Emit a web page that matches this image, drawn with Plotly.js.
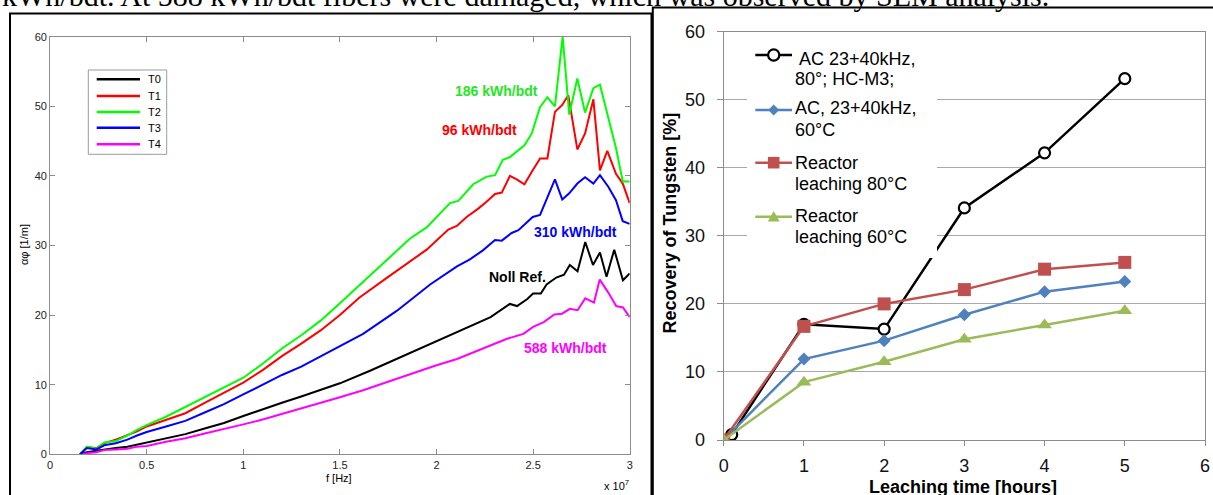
<!DOCTYPE html>
<html><head><meta charset="utf-8">
<script src="https://cdn.plot.ly/plotly-3.0.1.min.js"></script>
<style>html,body{margin:0;padding:0;background:#fff;overflow:hidden}#chart{width:1213px;height:495px}</style>
</head><body><div id="chart"></div><script>
// ---------- Left chart data (f in units of 1e7 Hz) ----------
const fT0 = [0.155,0.19,0.24,0.28,0.34,0.40,0.45,0.5,0.6,0.7,0.8,0.9,1.0,1.1,1.2,1.3,1.4,1.5,1.656,1.794,2.0,2.14,2.28,2.38,2.417,2.47,2.5,2.54,2.57,2.62,2.66,2.69,2.73,2.77,2.81,2.846,2.88,2.92,2.965,3.0];
const T0  = [0,0.3,0.5,0.7,0.9,1.1,1.4,1.6,2.2,2.9,3.7,4.5,5.5,6.5,7.4,8.3,9.3,10.2,12.0,13.7,16.3,18.0,19.7,21.6,21.3,22.3,23.1,23.1,24.4,25.4,25.8,27.2,26.3,30.5,27.2,29.0,25.5,29.4,25.0,26.0];
const fT1 = [0.155,0.19,0.24,0.28,0.34,0.40,0.45,0.5,0.6,0.7,0.8,0.9,1.0,1.1,1.2,1.3,1.4,1.5,1.6,1.75,1.872,1.949,2.061,2.105,2.156,2.216,2.259,2.303,2.338,2.38,2.415,2.455,2.498,2.536,2.574,2.613,2.651,2.682,2.729,2.769,2.812,2.846,2.884,2.929,2.964,3.0];
const T1  = [0,1.0,0.9,1.6,2.1,2.7,3.3,4.0,4.9,5.9,7.4,8.8,10.3,12.1,14.1,15.9,17.8,20.0,22.5,25.5,27.9,29.4,32.3,32.8,34.1,35.3,36.3,37.4,37.6,40.0,39.5,38.8,40.8,42.5,42.5,49.2,50.2,51.6,43.8,46.1,51.0,40.8,43.6,40.3,38.9,36.1];
const fT2 = [0.155,0.19,0.24,0.28,0.34,0.40,0.45,0.5,0.6,0.7,0.8,0.9,1.0,1.1,1.2,1.3,1.4,1.5,1.6,1.76,1.863,1.949,2.07,2.113,2.19,2.26,2.303,2.343,2.38,2.455,2.493,2.536,2.574,2.613,2.653,2.687,2.729,2.769,2.812,2.846,2.889,2.929,2.964,3.0];
const T2  = [0,1.1,0.8,1.7,1.9,2.7,3.5,4.2,5.4,6.8,8.3,9.6,11.0,13.0,15.2,17.1,19.2,21.7,24.3,28.4,31.0,32.6,36.1,36.4,38.8,39.9,40.1,42.3,42.7,44.4,46.1,49.9,51.3,50.0,60.0,48.8,54.0,49.1,52.6,53.1,48.5,44.0,39.2,39.2];
const fT3 = [0.155,0.19,0.24,0.28,0.34,0.40,0.45,0.5,0.6,0.7,0.8,0.9,1.0,1.1,1.2,1.3,1.4,1.5,1.62,1.794,1.967,2.106,2.173,2.24,2.303,2.338,2.389,2.424,2.498,2.536,2.613,2.651,2.687,2.729,2.769,2.812,2.846,2.89,2.929,2.964,3.0];
const T3  = [0,0.9,0.7,1.3,1.6,2.1,2.7,3.2,4.0,4.8,6.0,7.2,8.6,10.0,11.4,12.6,14.1,15.5,17.3,20.6,24.4,27.0,28.0,29.3,30.8,30.7,31.8,32.2,34.1,34.4,39.5,36.6,37.5,38.9,39.8,38.9,40.1,38.4,36.5,33.5,33.1];
const fT4 = [0.17,0.2,0.24,0.28,0.34,0.40,0.45,0.5,0.6,0.7,0.8,0.9,1.0,1.1,1.2,1.3,1.4,1.5,1.62,1.794,2.0,2.106,2.227,2.365,2.45,2.5,2.555,2.61,2.65,2.69,2.73,2.77,2.815,2.845,2.89,2.93,2.965,3.0];
const T4  = [0,0.2,0.3,0.6,0.7,0.8,1.1,1.2,1.8,2.3,3.0,3.6,4.3,5.0,5.8,6.5,7.3,8.2,9.2,10.9,12.8,13.7,15.1,16.6,17.3,18.3,19.0,20.1,20.2,20.9,20.7,22.4,21.8,25.1,23.2,21.3,21.1,19.7];
const leftNames = ['T0','T1','T2','T3','T4'];
const leftColors = ['#000000','#ff0000','#00ff00','#0000ff','#ff00ff'];
const fTicks = [0,0.5,1,1.5,2,2.5,3];
const fTickText = ['0','0.5','1','1.5','2','2.5','3'];
const leftYTicks = [0,10,20,30,40,50,60];

// ---------- Right chart data ----------
const hoursAC80 = [0.1,1,2,3,4,5];
const recAC80   = [0.8,17.0,16.3,34.1,42.2,53.1];
const hours     = [0,1,2,3,4,5];
const recAC60   = [0,11.9,14.6,18.4,21.8,23.3];
const recR80    = [0,16.7,20.0,22.1,25.1,26.1];
const recR60    = [0,8.5,11.5,14.8,16.9,19.0];
const rightNames = ['AC 23+40kHz, 80°; HC-M3;','AC, 23+40kHz, 60°C','Reactor leaching 80°C','Reactor leaching 60°C'];
const rightColors = ['#000000','#4f81bd','#c0504d','#9bbb59'];
const rightXTicks = [0,1,2,3,4,5,6];
const rightYTicks = [0,10,20,30,40,50,60];

// ---------- helpers: pixel -> paper ----------
const W = 1213, H = 495;
const X = p => p / W;
const Y = p => 1 - p / H;
const SANS = 'Liberation Sans, Arial, sans-serif';
const SERIF = 'Liberation Serif, Times New Roman, serif';

const leftSeries = [[fT0,T0],[fT1,T1],[fT2,T2],[fT3,T3],[fT4,T4]];
const traces = leftSeries.map((s,i) => ({
  type:'scatter', mode:'lines', x:s[0], y:s[1], name:leftNames[i],
  xaxis:'x', yaxis:'y', showlegend:false, hoverinfo:'skip',
  line:{color:leftColors[i], width:2}
}));

const rightSeries = [[hoursAC80,recAC80],[hours,recAC60],[hours,recR80],[hours,recR60]];
const rightMarkers = [
  {symbol:'circle', size:11, color:'#ffffff', line:{color:'#000000', width:2.2}},
  {symbol:'diamond', size:10, color:rightColors[1], line:{width:0}},
  {symbol:'square', size:13, color:rightColors[2], line:{width:0}},
  {symbol:'triangle-up', size:13, color:rightColors[3], line:{width:0}}
];
rightSeries.forEach((s,i) => traces.push({
  type:'scatter', mode:'lines+markers', x:s[0], y:s[1], name:rightNames[i],
  xaxis:'x2', yaxis:'y2', showlegend:false, hoverinfo:'skip',
  line:{color:rightColors[i], width:2.5}, marker:rightMarkers[i]
}));

const shapes = [];
const annotations = [];

// panel frames
shapes.push({type:'rect', xref:'paper', yref:'paper', x0:X(10), x1:X(651.5), y0:Y(13.5), y1:Y(520), line:{color:'#000', width:2}, layer:'above'});
shapes.push({type:'path', xref:'paper', yref:'paper', path:`M ${X(652.8)} ${Y(520)} L ${X(652.8)} ${Y(7.5)} L ${X(1220)} ${Y(7.5)}`, line:{color:'#000', width:2}, layer:'above'});

// left legend (box, line samples, labels)
shapes.push({type:'rect', xref:'paper', yref:'paper', x0:X(88.3), x1:X(166.7), y0:Y(70), y1:Y(154.3), line:{color:'#9a9a9a', width:1}, fillcolor:'#ffffff', layer:'above'});
const legLY = [79.3, 96, 112, 127.7, 144.3];
leftNames.forEach((n,i) => {
  shapes.push({type:'line', xref:'paper', yref:'paper', x0:X(96.7), x1:X(140), y0:Y(legLY[i]), y1:Y(legLY[i]), line:{color:leftColors[i], width:2.6}, layer:'above'});
  annotations.push({xref:'paper', yref:'paper', x:X(145.5), y:Y(legLY[i]), xanchor:'left', yanchor:'middle', text:n, showarrow:false, font:{family:SANS, size:11, color:'#000'}});
});

// left curve labels
const curveLabels = [
  ['186 kWh/bdt', 496.5, 91, '#22e622'],
  ['96 kWh/bdt', 479.5, 130, '#ff0000'],
  ['310 kWh/bdt', 575.5, 232, '#0000ff'],
  ['Noll Ref.', 517, 277, '#000000'],
  ['588 kWh/bdt', 565.5, 348, '#ff00ff']
];
curveLabels.forEach(c => annotations.push({xref:'paper', yref:'paper', x:X(c[1]), y:Y(c[2]), xanchor:'center', yanchor:'middle', text:'<b>'+c[0]+'</b>', showarrow:false, font:{family:SANS, size:14, color:c[3]}}));

// left axis titles
annotations.push({xref:'paper', yref:'paper', x:X(339), y:Y(478), xanchor:'center', yanchor:'middle', text:'f [Hz]', showarrow:false, font:{family:SANS, size:11, color:'#000'}});
annotations.push({xref:'paper', yref:'paper', x:X(24), y:Y(245), xanchor:'center', yanchor:'middle', textangle:-90, text:'αφ [1/m]', showarrow:false, font:{family:SANS, size:11, color:'#000'}});
annotations.push({xref:'paper', yref:'paper', x:X(631), y:Y(485), xanchor:'right', yanchor:'middle', text:'x 10<sup>7</sup>', showarrow:false, font:{family:SANS, size:11, color:'#000'}});

// right legend (white panel, samples, text)
shapes.push({type:'rect', xref:'paper', yref:'paper', x0:X(747), x1:X(937), y0:Y(38), y1:Y(258), line:{width:0}, fillcolor:'#ffffff', layer:'above'});
const legRY = [55, 110, 162.7, 216.7];
const mx = 773.7;
legRY.forEach((yy,i) => {
  shapes.push({type:'line', xref:'paper', yref:'paper', x0:X(755.3), x1:X(792), y0:Y(yy), y1:Y(yy), line:{color:rightColors[i], width:2.5}, layer:'above'});
});
shapes.push({type:'circle', xref:'paper', yref:'paper', x0:X(mx-5.6), x1:X(mx+5.6), y0:Y(55-5.6), y1:Y(55+5.6), line:{color:'#000', width:2.2}, fillcolor:'#fff', layer:'above'});
shapes.push({type:'path', xref:'paper', yref:'paper', path:`M ${X(mx-5.5)} ${Y(110)} L ${X(mx)} ${Y(104.5)} L ${X(mx+5.5)} ${Y(110)} L ${X(mx)} ${Y(115.5)} Z`, line:{width:0}, fillcolor:rightColors[1], layer:'above'});
shapes.push({type:'rect', xref:'paper', yref:'paper', x0:X(mx-5.8), x1:X(mx+5.8), y0:Y(162.7-5.8), y1:Y(162.7+5.8), line:{width:0}, fillcolor:rightColors[2], layer:'above'});
shapes.push({type:'path', xref:'paper', yref:'paper', path:`M ${X(mx-6)} ${Y(221.5)} L ${X(mx)} ${Y(211)} L ${X(mx+6)} ${Y(221.5)} Z`, line:{width:0}, fillcolor:rightColors[3], layer:'above'});
const legRText = [
  ['AC 23+40kHz,', 798, 59], ['80°; HC-M3;', 793.7, 79.2],
  ['AC, 23+40kHz,', 793.7, 108.5], ['60°C', 793.7, 130],
  ['Reactor', 793.7, 162.5], ['leaching 80°C', 793.7, 183.5],
  ['Reactor', 793.7, 215.8], ['leaching 60°C', 793.7, 236.8]
];
legRText.forEach(t => annotations.push({xref:'paper', yref:'paper', x:X(t[1]-1), y:Y(t[2]), xanchor:'left', yanchor:'middle', text:t[0], showarrow:false, font:{family:SANS, size:18, color:'#000'}}));

// right axis titles
annotations.push({xref:'paper', yref:'paper', x:X(669), y:Y(223.5), xanchor:'center', yanchor:'middle', textangle:-90, text:'<b>Recovery of Tungsten [%]</b>', showarrow:false, font:{family:SANS, size:18, color:'#000'}});
annotations.push({xref:'paper', yref:'paper', x:X(962.5), y:Y(487), xanchor:'center', yanchor:'middle', text:'<b>Leaching time [hours]</b>', showarrow:false, font:{family:SANS, size:18, color:'#000'}});

// clipped sentence at top of page
annotations.push({xref:'paper', yref:'paper', x:X(0), y:Y(-4.5), xanchor:'left', yanchor:'middle', text:'kWh/bdt. At 588 kWh/bdt fibers were damaged, which was observed by SEM analysis.', showarrow:false, font:{family:SERIF, size:30, color:'#000'}});

const layout = {
  width:W, height:H, margin:{l:0,r:0,t:0,b:0}, paper_bgcolor:'#fff', plot_bgcolor:'#fff',
  showlegend:false,
  xaxis:{domain:[X(50.1), X(629.7)], range:[0,3], tickvals:fTicks, ticktext:fTickText, ticks:'inside', ticklen:5, tickcolor:'#8c8c8c',
         showline:true, linecolor:'#8c8c8c', linewidth:1, mirror:'ticks', showgrid:false, zeroline:false,
         tickfont:{family:SANS, size:11, color:'#222'}, anchor:'y', fixedrange:true},
  yaxis:{domain:[Y(454.3), Y(36.7)], range:[0,60], tickvals:leftYTicks, ticks:'inside', ticklen:5, tickcolor:'#8c8c8c',
         showline:true, linecolor:'#8c8c8c', linewidth:1, mirror:'ticks', showgrid:false, zeroline:false,
         tickfont:{family:SANS, size:11, color:'#222'}, anchor:'x', fixedrange:true},
  xaxis2:{domain:[X(723.7), X(1205)], range:[0,6], tickvals:rightXTicks, ticks:'outside', ticklen:5, tickcolor:'#8c8c8c',
         showline:true, linecolor:'#8c8c8c', linewidth:1, mirror:true, showgrid:false, zeroline:false, ticklabelstandoff:4,
         tickfont:{family:SANS, size:18, color:'#111'}, anchor:'y2', fixedrange:true},
  yaxis2:{domain:[Y(440), Y(31.7)], range:[0,60], tickvals:rightYTicks, ticks:'outside', ticklen:6, tickcolor:'#8c8c8c',
         showline:true, linecolor:'#8c8c8c', linewidth:1, mirror:true, showgrid:true, gridcolor:'#a8a8a8', gridwidth:1, zeroline:false, ticklabelstandoff:8,
         tickfont:{family:SANS, size:18, color:'#111'}, anchor:'x2', fixedrange:true},
  shapes:shapes, annotations:annotations
};
Plotly.newPlot('chart', traces, layout, {staticPlot:true, displayModeBar:false});
</script></body></html>
